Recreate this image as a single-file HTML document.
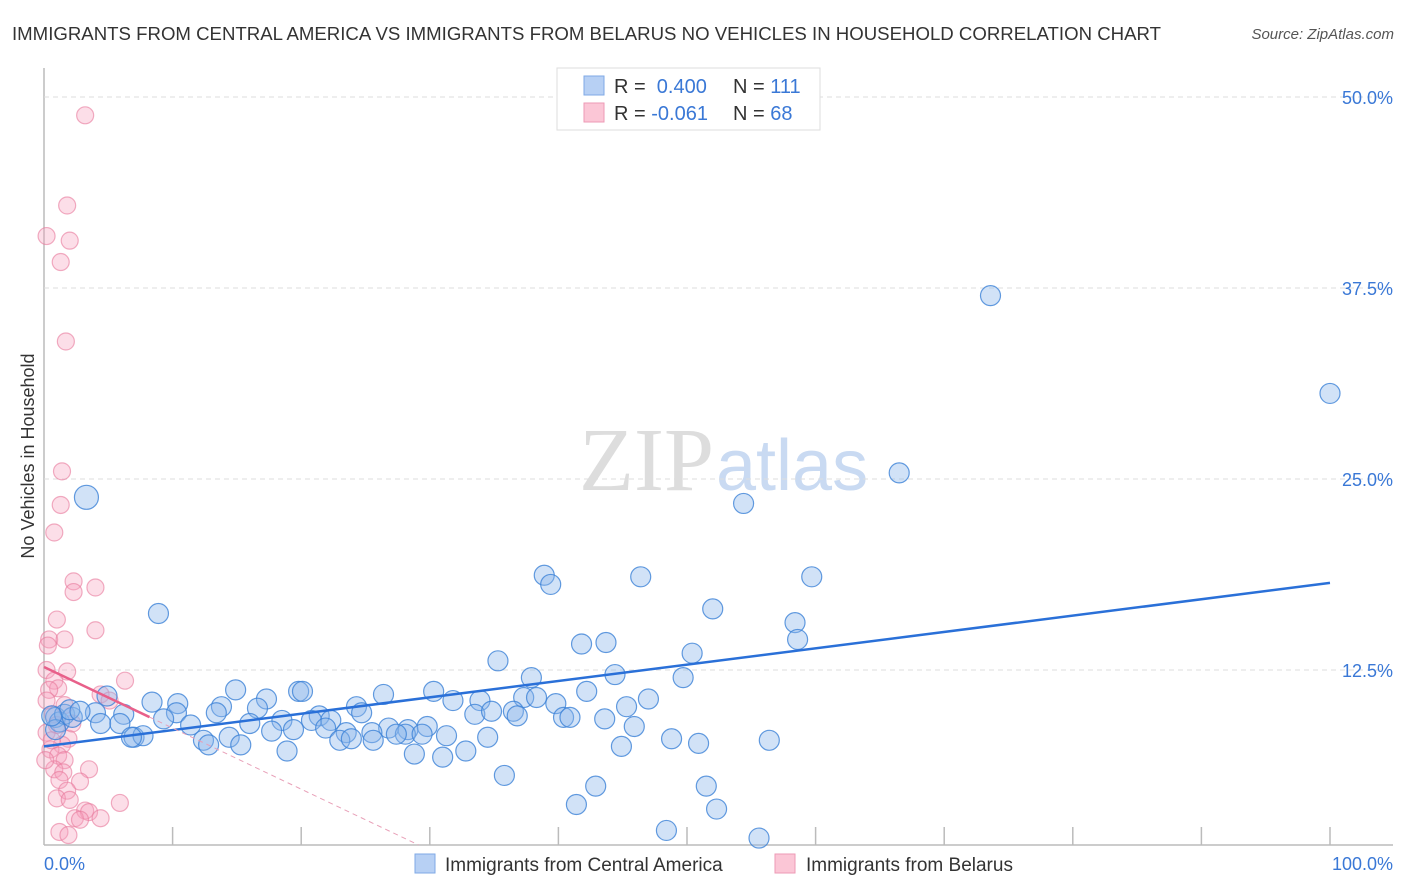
<!DOCTYPE html>
<html><head><meta charset="utf-8">
<style>
body{margin:0;background:#fff;font-family:"Liberation Sans",sans-serif;}
#wrap{position:relative;width:1406px;height:892px;overflow:hidden;}
</style></head>
<body>
<div id="wrap">
<svg id="svg" width="1406" height="892" xmlns="http://www.w3.org/2000/svg">
<text x="12" y="40" font-size="18" fill="#333" textLength="1149" lengthAdjust="spacingAndGlyphs">IMMIGRANTS FROM CENTRAL AMERICA VS IMMIGRANTS FROM BELARUS NO VEHICLES IN HOUSEHOLD CORRELATION CHART</text>
<text x="1394" y="39" font-size="15" fill="#555" font-style="italic" text-anchor="end">Source: ZipAtlas.com</text>
<text x="714" y="490" font-size="90" fill="#ddd" font-family="Liberation Serif,serif" text-anchor="end">ZIP</text>
<text x="716" y="490" font-size="72" fill="#c9daf2">atlas</text>
<text transform="translate(34,456) rotate(-90)" font-size="18" fill="#333" text-anchor="middle">No Vehicles in Household</text>
<g id="grid"></g><g id="pts"></g><g id="lines"></g>
<g>
<rect x="557" y="68" width="263" height="62" fill="#fff" stroke="#ddd"/>
<rect x="584" y="76" width="20" height="19" fill="#b7d0f4" stroke="#7fa9e6"/>
<rect x="584" y="103" width="20" height="19" fill="#fbc6d6" stroke="#ee9ab5"/>
<text x="614" y="93" font-size="20" fill="#333">R = <tspan fill="#3a78d6">&#160;0.400</tspan><tspan x="733">N = </tspan><tspan fill="#3a78d6">111</tspan></text>
<text x="614" y="120" font-size="20" fill="#333">R = <tspan fill="#3a78d6">-0.061</tspan><tspan x="733">N = </tspan><tspan fill="#3a78d6">68</tspan></text>
</g>
<g>
<rect x="415" y="854" width="20" height="19" fill="#b7d0f4" stroke="#7fa9e6"/>
<text x="445" y="871" font-size="19" fill="#333">Immigrants from Central America</text>
<rect x="775" y="854" width="20" height="19" fill="#fbc6d6" stroke="#ee9ab5"/>
<text x="806" y="871" font-size="19" fill="#333">Immigrants from Belarus</text>
</g>
<text x="44" y="870" font-size="18" fill="#3a78d6">0.0%</text>
<text x="1393" y="870" font-size="18" fill="#3a78d6" text-anchor="end">100.0%</text>
</svg>
</div>
<script>
const yTicks=[12.5,25,37.5,50];
const yTickLabels=["12.5%","25.0%","37.5%","50.0%"];
const blueX=[73.6,100,66.5,54.4,3.3,38.9,39.4,46.4,59.7,52.0,8.9,58.4,58.6,41.8,43.7,50.4,35.3,37.9,44.4,49.7,14.9,19.8,20.1,26.4,30.3,42.2,4.9,8.4,17.3,10.4,13.8,16.6,24.3,31.8,33.9,37.3,38.3,39.8,45.3,47.0,13.4,10.3,21.4,24.7,33.5,34.8,36.5,36.8,40.4,40.9,43.6,45.9,4.0,6.2,9.3,11.4,16.0,18.5,20.8,22.3,26.8,28.3,29.8,28.1,31.3,34.5,23.5,21.9,25.5,19.4,17.7,14.4,12.4,12.8,15.3,7.0,7.7,4.4,5.9,23.0,25.6,23.9,27.4,29.4,48.8,50.9,56.4,18.9,28.8,31.0,32.8,44.9,35.8,42.9,51.5,41.4,52.3,48.4,55.6,6.8,0.9,1.2,1.6,2.2,2.0,0.9,2.8,0.6];
const blueY=[37.0,30.6,25.4,23.4,23.8,18.7,18.1,18.6,18.6,16.5,16.2,15.6,14.5,14.2,14.3,13.6,13.1,12.0,12.2,12.0,11.2,11.1,11.1,10.9,11.1,11.1,10.8,10.4,10.6,10.3,10.1,10.0,10.1,10.5,10.5,10.7,10.7,10.3,10.1,10.6,9.7,9.7,9.5,9.7,9.6,9.8,9.8,9.5,9.4,9.4,9.3,8.8,9.7,9.6,9.3,8.9,9.0,9.2,9.2,9.2,8.7,8.6,8.8,8.3,8.2,8.1,8.4,8.7,8.4,8.6,8.5,8.1,7.9,7.6,7.6,8.1,8.2,9.0,9.0,7.9,7.9,8.0,8.3,8.3,8.0,7.7,7.9,7.2,7.0,6.8,7.2,7.5,5.6,4.9,4.9,3.7,3.4,2.0,1.5,8.1,9.4,9.1,9.6,9.4,9.9,8.6,9.8,9.5];
const pinkX=[3.2,1.8,0.2,2.0,1.3,1.7,1.4,1.3,0.8,2.3,4.0,2.3,1.0,4.0,0.4,1.6,0.3,0.2,1.8,6.3,0.8,1.1,0.4,4.4,5.1,1.6,0.7,1.0,0.2,1.9,1.4,0.5,1.1,1.6,0.8,3.5,1.5,1.2,2.8,1.8,1.0,2.0,3.2,5.9,3.5,2.4,4.4,1.2,1.9,2.8,0.2,0.6,2.2,0.1];
const pinkY=[48.8,42.9,40.9,40.6,39.2,34.0,25.5,23.3,21.5,18.3,17.9,17.6,15.8,15.1,14.5,14.5,14.1,12.5,12.4,11.8,11.8,11.3,11.2,10.9,10.5,10.2,9.6,8.9,8.4,8.0,7.6,7.3,6.9,6.6,6.0,6.0,5.8,5.3,5.2,4.6,4.1,4.0,3.3,3.8,3.2,2.8,2.8,1.9,1.7,2.7,10.5,7.9,9.0,6.6];
const blueTrend=[7.5,18.2];
const pinkTrend=[12.7,-0.40];
const pinkSolidEnd=8.2;

const X=v=>44+v*12.86, Y=v=>861-v*15.28;
const NS="http://www.w3.org/2000/svg";
function mk(tag,attrs,parent){const e=document.createElementNS(NS,tag);for(const k in attrs)e.setAttribute(k,attrs[k]);parent.appendChild(e);return e;}
const grid=document.getElementById('grid');
mk('line',{x1:44,y1:68,x2:44,y2:845,stroke:'#bbb','stroke-width':1.5},grid);
mk('line',{x1:44,y1:845,x2:1393,y2:845,stroke:'#bbb','stroke-width':1.5},grid);
for(let i=1;i<=10;i++){const t=mk('line',{x1:X(i*10),y1:827,x2:X(i*10),y2:845,stroke:'#bbb','stroke-width':1.5},grid);

}
yTicks.forEach((v,i)=>{const g=mk('line',{x1:44,y1:Y(v),x2:1393,y2:Y(v),stroke:'#ddd','stroke-dasharray':'5,4'},grid);


const t=mk('text',{x:1393,y:Y(v)+7,'font-size':18,fill:'#3a78d6','text-anchor':'end'},grid);t.textContent=yTickLabels[i];

});
const pts=document.getElementById('pts');
pinkX.forEach((x,i)=>{const c=mk('circle',{cx:X(x),cy:Y(pinkY[i]),r:8.5,fill:'rgba(246,160,190,0.35)',stroke:'rgba(232,120,155,0.6)','stroke-width':1.2},pts);

});
blueX.forEach((x,i)=>{const big=(i===4);const c=mk('circle',{cx:X(x),cy:Y(blueY[i]),r:big?12:10,fill:'rgba(140,182,236,0.4)',stroke:'rgba(60,130,215,0.8)','stroke-width':1.2},pts);

});
const lines=document.getElementById('lines');
const bl=mk('line',{x1:X(0),y1:Y(blueTrend[0]),x2:X(100),y2:Y(blueTrend[1]),stroke:'#2a70d8','stroke-width':2.5},lines);


const py=x=>pinkTrend[0]+pinkTrend[1]*x;
const xEnd=-(pinkTrend[0]-1.05)/pinkTrend[1];
const pd=mk('line',{x1:X(pinkSolidEnd),y1:Y(py(pinkSolidEnd)),x2:X(xEnd),y2:Y(py(xEnd)),stroke:'#e8a0b8','stroke-width':1,'stroke-dasharray':'5,4'},lines);


const ps=mk('line',{x1:X(0),y1:Y(py(0)),x2:X(pinkSolidEnd),y2:Y(py(pinkSolidEnd)),stroke:'#e8608a','stroke-width':2.5},lines);


</script>
</body></html>
